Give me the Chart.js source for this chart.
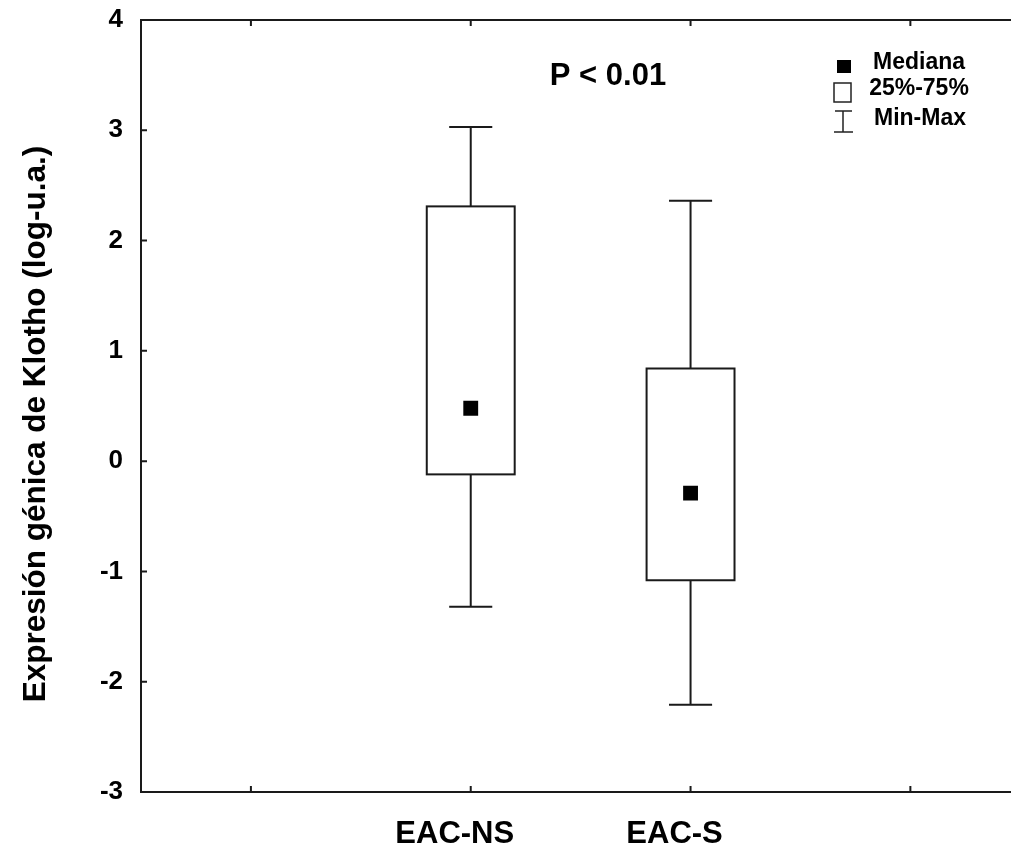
<!DOCTYPE html>
<html lang="es">
<head>
    <meta charset="UTF-8">
    <script src="https://cdn.jsdelivr.net/npm/chart.js"></script>
    <title>Klotho</title>
    <style>
        body { margin: 0; background: #fff; }
        #grafico { display: block; }
    </style>
</head>
<body>
    <canvas id="grafico" width="1011" height="848"></canvas>

    <script>
        // datos
        const categorias = ['EAC-NS', 'EAC-S'];
        const posiciones = [1, 2];
        const medianas = [0.48, -0.29];
        const q25 = [-0.12, -1.08];
        const q75 = [2.31, 0.84];
        const minimos = [-1.32, -2.21];
        const maximos = [3.03, 2.36];
        const ticksX = [0, 1, 2, 3];

        const fuente = '"Liberation Sans", Arial, sans-serif';
        const negro = '#1a1a1a';

        // cajas y bigotes, dibujados con las escalas del grafico
        const cajas = {
            id: 'cajas',
            beforeDatasetsDraw(chart) {
                const ctx = chart.ctx;
                const x = chart.scales.x;
                const y = chart.scales.y;
                ctx.save();
                ctx.strokeStyle = negro;
                ctx.lineWidth = 2;
                for (let i = 0; i < posiciones.length; i++) {
                    const cx = x.getPixelForValue(posiciones[i]);
                    const izq = x.getPixelForValue(posiciones[i] - 0.2);
                    const der = x.getPixelForValue(posiciones[i] + 0.2);
                    const capI = x.getPixelForValue(posiciones[i] - 0.098);
                    const capD = x.getPixelForValue(posiciones[i] + 0.098);
                    const yMax = y.getPixelForValue(maximos[i]);
                    const yMin = y.getPixelForValue(minimos[i]);
                    const y75 = y.getPixelForValue(q75[i]);
                    const y25 = y.getPixelForValue(q25[i]);

                    ctx.beginPath();
                    ctx.moveTo(cx, yMax); ctx.lineTo(cx, y75);
                    ctx.moveTo(cx, y25); ctx.lineTo(cx, yMin);
                    ctx.moveTo(capI, yMax); ctx.lineTo(capD, yMax);
                    ctx.moveTo(capI, yMin); ctx.lineTo(capD, yMin);
                    ctx.stroke();

                    ctx.fillStyle = '#fff';
                    ctx.fillRect(izq, y75, der - izq, y25 - y75);
                    ctx.strokeRect(izq, y75, der - izq, y25 - y75);
                }
                ctx.restore();
            },
            afterDraw(chart) {
                const ctx = chart.ctx;
                const a = chart.chartArea;
                const x = chart.scales.x;
                const y = chart.scales.y;
                ctx.save();
                ctx.strokeStyle = negro;
                ctx.lineWidth = 2;
                // marco
                ctx.beginPath();
                ctx.moveTo(chart.width, a.top); ctx.lineTo(a.left, a.top);
                ctx.lineTo(a.left, a.bottom); ctx.lineTo(chart.width, a.bottom);
                // marcas hacia adentro
                y.ticks.forEach(t => {
                    const py = y.getPixelForValue(t.value);
                    ctx.moveTo(a.left, py); ctx.lineTo(a.left + 6, py);
                });
                ticksX.forEach(v => {
                    const px = x.getPixelForValue(v);
                    ctx.moveTo(px, a.bottom); ctx.lineTo(px, a.bottom - 6);
                    ctx.moveTo(px, a.top); ctx.lineTo(px, a.top + 6);
                });
                ctx.stroke();

                // titulo del eje y
                ctx.fillStyle = '#000';
                ctx.font = 'bold 31.5px ' + fuente;
                ctx.textAlign = 'center';
                ctx.textBaseline = 'middle';
                ctx.translate(36, 424);
                ctx.rotate(-Math.PI / 2);
                ctx.fillText('Expresión génica de Klotho (log-u.a.)', 0, 0);
                ctx.setTransform(1, 0, 0, 1, 0, 0);

                // valor p
                ctx.font = 'bold 31px ' + fuente;
                ctx.fillText('P < 0.01', 608, 76);

                // leyenda
                ctx.font = 'bold 23px ' + fuente;
                ctx.fillText('Mediana', 919, 63);
                ctx.fillText('25%-75%', 919, 89);
                ctx.fillText('Min-Max', 920, 119);
                ctx.fillStyle = '#000';
                ctx.fillRect(837, 60, 14, 13);
                ctx.lineWidth = 1.5;
                ctx.strokeStyle = '#222';
                ctx.strokeRect(834, 83, 17, 19);
                ctx.beginPath();
                ctx.moveTo(843, 111); ctx.lineTo(843, 132);
                ctx.moveTo(835, 111); ctx.lineTo(852, 111);
                ctx.moveTo(834, 132); ctx.lineTo(853, 132);
                ctx.stroke();
                ctx.restore();
            }
        };

        const datos = {
            datasets: [{
                label: 'Mediana',
                data: posiciones.map((p, i) => ({ x: p, y: medianas[i] })),
                pointStyle: 'rect',
                pointRadius: 10.5,
                pointHoverRadius: 10.5,
                backgroundColor: '#000',
                borderColor: '#000',
                borderWidth: 0
            }]
        };

        const config = {
            type: 'scatter',
            data: datos,
            options: {
                responsive: false,
                animation: false,
                layout: { padding: { top: 20, right: 0, left: 0, bottom: 0 } },
                plugins: {
                    legend: { display: false },
                    tooltip: { enabled: false }
                },
                scales: {
                    x: {
                        type: 'linear',
                        min: -0.5,
                        max: 3.41,
                        grid: { display: false, drawTicks: false },
                        border: { display: false },
                        ticks: {
                            stepSize: 1,
                            includeBounds: false,
                            autoSkip: false,
                            maxRotation: 0,
                            padding: 24,
                            labelOffset: -16,
                            color: '#000',
                            font: { family: fuente, size: 31, weight: 'bold' },
                            callback: v => {
                                const i = posiciones.indexOf(v);
                                return i >= 0 ? categorias[i] : '';
                            }
                        },
                        afterFit: s => {
                            s.height = 56;
                            s.paddingLeft = 0;
                            s.paddingRight = 0;
                        }
                    },
                    y: {
                        min: -3,
                        max: 4,
                        grid: { display: false, drawTicks: false },
                        border: { display: false },
                        ticks: {
                            stepSize: 1,
                            padding: 18,
                            color: '#000',
                            font: { family: fuente, size: 26, weight: 'bold' }
                        },
                        afterFit: s => {
                            s.width = 141;
                            s.paddingTop = 0;
                            s.paddingBottom = 0;
                        }
                    }
                }
            },
            plugins: [cajas]
        };

        var grafico = new Chart(document.getElementById('grafico'), config);
    </script>
</body>
</html>
